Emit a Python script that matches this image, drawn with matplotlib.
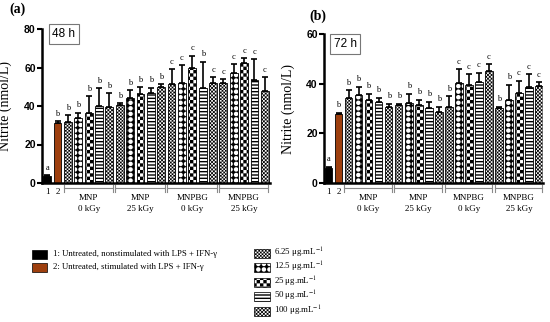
import warnings
warnings.filterwarnings("ignore")
import matplotlib
matplotlib.use("Agg")
import matplotlib.pyplot as plt
import matplotlib.hatch as mhatch
from matplotlib.path import Path
from matplotlib.patches import Rectangle
import numpy as np

# ---------------- data ----------------
concentrations = ["6.25", "12.5", "25", "50", "100"]
group_names = ["MNP", "MNP", "MNPBG", "MNPBG"]
group_doses = ["0 kGy", "25 kGy", "0 kGy", "25 kGy"]
control_labels = ["1", "2"]

ctrl_48 = [3.6, 31.2]
ctrl_48_err = [0.4, 1.0]
vals_48 = [31.5, 33.6, 36.5, 40.0, 39.3,
           40.4, 44.0, 46.2, 46.9, 50.0,
           51.4, 52.1, 59.6, 49.5, 51.8,
           51.8, 57.0, 62.5, 53.5, 47.8]
err_48 = [3.8, 2.9, 8.7, 9.2, 7.3,
          1.0, 4.3, 3.5, 2.5, 1.3,
          7.7, 9.2, 6.5, 13.5, 3.1,
          2.1, 4.8, 2.3, 10.8, 7.1]
letters_48 = ["a", "b"] + ["b"] * 10 + ["c", "c", "c", "b", "c"] + ["c"] * 5

ctrl_72 = [5.9, 27.8]
ctrl_72_err = [0.7, 0.5]
vals_72 = [34.3, 35.6, 33.6, 32.6, 30.7,
           31.6, 32.3, 31.5, 30.3, 28.7,
           30.5, 40.1, 39.5, 40.8, 45.2,
           30.1, 33.4, 36.4, 38.5, 39.1]
err_72 = [3.1, 3.1, 2.4, 1.8, 1.3,
          0.4, 3.6, 2.1, 2.4, 2.0,
          4.5, 5.7, 4.3, 3.6, 2.7,
          0.6, 6.1, 4.8, 5.3, 1.5]
letters_72 = ["a", "b"] + ["b"] * 10 + ["b", "c", "c", "c", "c"] + ["b", "b", "c", "c", "c"]

legend_ctrl = ["1: Untreated, nonstimulated with LPS + IFN-\u03b3",
               "2: Untreated, stimulated with LPS + IFN-\u03b3"]


# ---------------- custom hatch patterns (checkerboard / holes) ----------------
class CheckerHatch(mhatch.HatchPatternBase):
    def __init__(self, hatch, density):
        n = int(hatch.count("#") * density)
        n += n % 2
        self.n = n
        self.cells = [(i, j) for i in range(n) for j in range(n) if (i + j) % 2 == 0] if n else []
        self.num_vertices = len(self.cells) * 5

    def set_vertices_and_codes(self, vertices, codes):
        s = 1.0 / self.n
        for k, (i, j) in enumerate(self.cells):
            x0, y0 = i * s, j * s
            vertices[5 * k:5 * k + 5] = [(x0, y0), (x0 + s, y0), (x0 + s, y0 + s), (x0, y0 + s), (x0, y0)]
            codes[5 * k:5 * k + 5] = [Path.MOVETO, Path.LINETO, Path.LINETO, Path.LINETO, Path.CLOSEPOLY]


class HoleHatch(mhatch.HatchPatternBase):
    NC = 14

    def __init__(self, hatch, density):
        n = int(hatch.count("@") * density)
        self.n = n
        self.per = 5 + self.NC + 1
        self.num_vertices = n * n * self.per

    def set_vertices_and_codes(self, vertices, codes):
        s = 1.0 / self.n
        r = 0.42 * s
        ang = -np.linspace(0, 2 * np.pi, self.NC, endpoint=False)
        k = 0
        for i in range(self.n):
            for j in range(self.n):
                x0, y0 = i * s, j * s
                sq = [(x0, y0), (x0 + s, y0), (x0 + s, y0 + s), (x0, y0 + s), (x0, y0)]
                cx, cy = x0 + s / 2, y0 + s / 2
                circ = [(cx + r * np.cos(a), cy + r * np.sin(a)) for a in ang] + [(cx + r, cy)]
                vertices[k:k + self.per] = sq + circ
                codes[k:k + self.per] = ([Path.MOVETO] + [Path.LINETO] * 3 + [Path.CLOSEPOLY]
                                         + [Path.MOVETO] + [Path.LINETO] * (self.NC - 1) + [Path.CLOSEPOLY])
                k += self.per


mhatch._hatch_types.append(CheckerHatch)
mhatch._hatch_types.append(HoleHatch)

# ---------------- style ----------------
plt.rcParams["mathtext.fontset"] = "stix"
ctrl_colors = ["#000000", "#9e3f0e"]
hatches = ["##########", "@@@", "#####", "-----", "#########"]
hatch_lw = [0.05, 0.05, 0.05, 1.0, 0.05]
hatch_col = ["#8c8c8c", "#707070", "black", "black", "black"]
SERIF = "Liberation Serif"
SANS = "Liberation Sans"
W, H = 550, 322

fig = plt.figure(figsize=(5.5, 3.22), dpi=100)


def fx(px):
    return px / W


def fy(py):
    return 1 - py / H


def hatched_kwargs(k):
    return {"hatch.linewidth": hatch_lw[k], "hatch.color": hatch_col[k]}


def draw_panel(rect, ctrl, ctrl_err, vals, errs, letters, ymax, yticks, xlim, tag, tagpos, boxtxt, boxpos):
    l, t, r, b = rect
    ax = fig.add_axes([fx(l), fy(b), fx(r) - fx(l), (b - t) / H])
    ax_h = b - t
    width = 0.76
    x_all = np.arange(len(ctrl) + len(vals))
    for i in range(len(ctrl)):
        ax.bar(x_all[i], ctrl[i], width, color=ctrl_colors[i], edgecolor="black", linewidth=0.6, zorder=2)
        ax.errorbar(x_all[i], ctrl[i], yerr=[[0], [ctrl_err[i]]], fmt="none", ecolor="black",
                    elinewidth=1.2, capsize=2.5, capthick=1.2, zorder=3)
    for j, v in enumerate(vals):
        k = j % 5
        xi = x_all[len(ctrl) + j]
        with plt.rc_context(hatched_kwargs(k)):
            bars = ax.bar(xi, v, width, color="white", edgecolor="black", hatch=hatches[k],
                          linewidth=0.6, zorder=2)
            for p in bars:
                if hasattr(p, "set_hatch_linewidth"):
                    p.set_hatch_linewidth(hatch_lw[k])
        ax.errorbar(xi, v, yerr=[[0], [errs[j]]], fmt="none", ecolor="black",
                    elinewidth=1.2, capsize=2.5, capthick=1.2, zorder=3)
    tops = list(np.array(ctrl) + np.array(ctrl_err)) + list(np.array(vals) + np.array(errs))
    for xi, tp, lt in zip(x_all, tops, letters):
        ax.annotate(lt, (xi, tp), xytext=(0, 2.5), textcoords="offset points", ha="center", va="bottom",
                    fontsize=6, family=SERIF, zorder=4)
    ax.set_xlim(*xlim)
    ax.set_ylim(0, ymax)
    ax.set_yticks(yticks)
    ax.set_yticklabels([str(v) for v in yticks], fontsize=7.5, fontweight="bold", family=SANS)
    ax.set_xticks([])
    for s in ["top", "right"]:
        ax.spines[s].set_visible(False)
    ax.spines["left"].set_linewidth(1.8)
    ax.spines["bottom"].set_linewidth(1.8)
    ax.tick_params(axis="y", length=3.5, width=1.5, pad=1)
    ax.set_ylabel("Nitrite (nmol/L)", fontsize=10, family=SERIF, labelpad=2)
    trans = ax.get_xaxis_transform()
    for i, lab in enumerate(control_labels):
        ax.text(x_all[i], -9 / ax_h, lab, transform=trans, ha="center", va="center",
                fontsize=6.5, family=SERIF)
    for g in range(4):
        i0 = len(ctrl) + 5 * g
        i1 = i0 + 4
        x0, x1 = x_all[i0] - 0.42, x_all[i1] + 0.35
        yl = -5 / ax_h
        ax.plot([x0, x1], [yl, yl], color="#8a8a8a", lw=0.8, transform=trans, clip_on=False)
        for xe in (x0, x1):
            ax.plot([xe, xe], [-2 / ax_h, -9 / ax_h], color="#8a8a8a", lw=0.8, transform=trans, clip_on=False)
        xc = (x_all[i0] + x_all[i1]) / 2
        ax.text(xc, -15 / ax_h, group_names[g], transform=trans, ha="center", va="center", fontsize=6.5,
                family=SERIF)
        ax.text(xc, -26 / ax_h, group_doses[g], transform=trans, ha="center", va="center", fontsize=6.5,
                family=SERIF)
    fig.text(fx(tagpos[0]), fy(tagpos[1]), tag, fontsize=10, fontweight="bold", family=SERIF,
             ha="center", va="center")
    fig.text(fx(boxpos[0]), fy(boxpos[1]), boxtxt, fontsize=8.5, family=SANS, ha="center", va="center",
             bbox=dict(boxstyle="square,pad=0.3", fc="white", ec="#777777", lw=0.8))
    return ax


ax1 = draw_panel((42, 29, 270, 183), ctrl_48, ctrl_48_err, vals_48, err_48, letters_48, 80,
                 [0, 20, 40, 60, 80], (-0.5, 21.5), "(a)", (17, 9), "48 h", (64, 34))
ax1.yaxis.set_label_coords((12 - 42) / 228, 0.5)
ax2 = draw_panel((324, 34, 543, 183), ctrl_72, ctrl_72_err, vals_72, err_72, letters_72, 60,
                 [0, 20, 40, 60], (-0.45, 21.4), "(b)", (318, 16), "72 h", (345, 44))
ax2.yaxis.set_label_coords((295 - 324) / 219, 0.5)

# ---------------- legends ----------------
ctrl_rows = [254, 267]
for i, txt in enumerate(legend_ctrl):
    fig.add_artist(Rectangle((fx(32), fy(ctrl_rows[i] + 4.5)), fx(15), 9 / H, facecolor=ctrl_colors[i],
                             edgecolor="black", lw=0.5, transform=fig.transFigure))
    fig.text(fx(53), fy(ctrl_rows[i]), txt, fontsize=6.3, family=SERIF, va="center", ha="left")

conc_rows = [253, 267, 282, 296, 311]
for k, c in enumerate(concentrations):
    with plt.rc_context(hatched_kwargs(k)):
        p = Rectangle((fx(254), fy(conc_rows[k] + 4.5)), fx(16), 9 / H, facecolor="white",
                      edgecolor="black", lw=0.5, hatch=hatches[k], transform=fig.transFigure)
        if hasattr(p, "set_hatch_linewidth"):
            p.set_hatch_linewidth(hatch_lw[k])
    fig.add_artist(p)
    fig.text(fx(274), fy(conc_rows[k]), c + " \u03bcg.mL$^{-1}$", fontsize=6.3, family=SERIF,
             va="center", ha="left")

fig.savefig("out.png", dpi=100)
